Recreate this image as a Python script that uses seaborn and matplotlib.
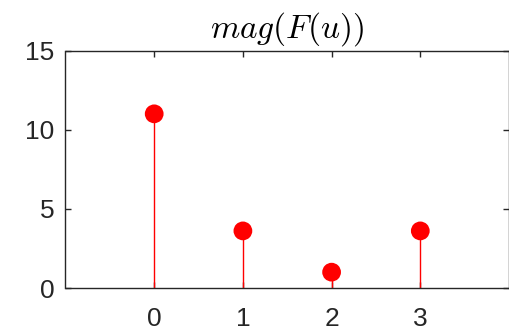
import matplotlib
matplotlib.use("Agg")
import matplotlib.pyplot as plt
import seaborn as sns
import pandas as pd

u = [0, 1, 2, 3]
mag = [11.0, 3.606, 1.0, 3.606]
xticks = [0, 1, 2, 3]
yticks = [0, 5, 10, 15]
title = r"$mag(F(u))$"

sns.set_style("white")
plt.rcParams['font.family'] = ['Liberation Sans', 'DejaVu Sans']
plt.rcParams['mathtext.fontset'] = 'cm'

df = pd.DataFrame({"u": u, "mag": mag})

fig = plt.figure(figsize=(5.1, 3.3), dpi=100)
ax = fig.add_axes([65.5/510, 1-288/330, (509-65.5)/510, (288-50.5)/330])

ax.vlines(df["u"], 0, df["mag"], color="#ff0000", linewidth=1.0, zorder=2)
sns.scatterplot(data=df, x="u", y="mag", ax=ax, color="#ff0000", s=13.5**2,
                edgecolor="none", linewidth=0, zorder=3, legend=False)

ax.set_xlim(-1, 4)
ax.set_ylim(0, 15)
ax.set_xticks(xticks)
ax.set_yticks(yticks)
ax.set_xlabel("")
ax.set_ylabel("")
ax.set_title(title, fontsize=24, color="black", pad=9)

for s in ax.spines.values():
    s.set_visible(True)
    s.set_color("#262626")
    s.set_linewidth(1.0)
ax.tick_params(direction="in", length=4.5, width=1.0, color="#262626",
               labelsize=19, labelcolor="#262626", top=True, right=True,
               bottom=True, left=True)
ax.tick_params(axis="x", pad=13.5)
ax.tick_params(axis="y", pad=8)
ax.grid(False)

fig.savefig("out.png", dpi=100)
